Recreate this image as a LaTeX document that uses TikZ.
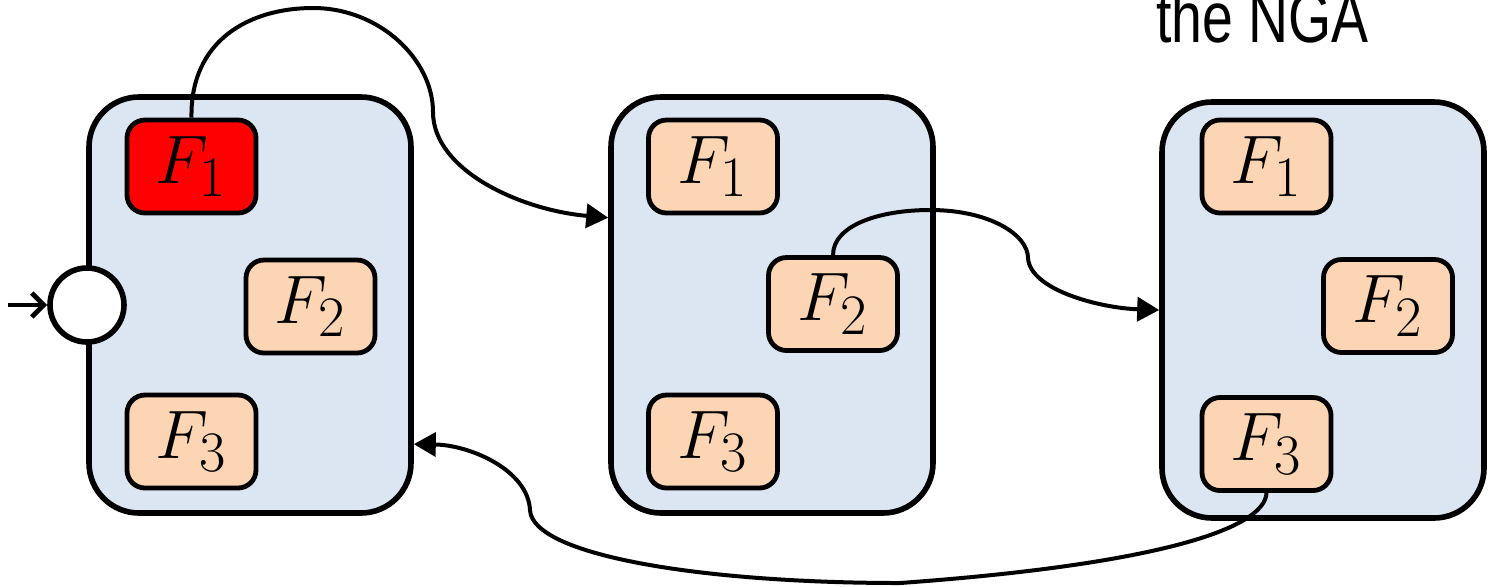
\documentclass[tikz,border=0pt]{standalone}
\usepackage{graphicx}
\usepackage{fontspec}
\newfontfamily\labelfont{Liberation Sans}
\usetikzlibrary{arrows.meta,calc}

\definecolor{stateblue}{HTML}{DCE6F2}
\definecolor{flagpeach}{HTML}{FCD5B4}
\definecolor{flagred}{HTML}{FF0000}

% flag label: math at \Huge, enlarged
\newcommand{\flaglabel}[1]{\scalebox{1.38}{\Huge$F_{#1}$}}

\tikzset{
  statebox/.style={draw=black, line width=2.8pt, fill=stateblue, rounded corners=25pt,
    minimum width=161pt, minimum height=208pt, inner sep=0pt},
  flagbox/.style={draw=black, line width=2.4pt, fill=flagpeach, rounded corners=9pt,
    minimum width=64.5pt, minimum height=46.5pt, inner sep=0pt},
  activeflag/.style={flagbox, fill=flagred},
  startdot/.style={circle, draw=black, line width=2.8pt, fill=white, minimum size=37pt, inner sep=0pt},
  jump/.style={draw=black, line width=2pt, -{Triangle[length=11pt,width=12pt]}},
  entry/.style={draw=black, line width=2.4pt, -{Straight Barb[length=6pt,width=12pt,line width=2.4pt]}}
}

\begin{document}
\begin{tikzpicture}[x=0.5pt, y=-0.5pt]
  \useasboundingbox (0,0) rectangle (1492,586);

  % three states, each holding the flags F1..F3
  \node[statebox] (A) at (250,305) {};
  \node[statebox] (B) at (772,305) {};
  \node[statebox] (C) at (1323,310) {};

  \node[activeflag] (A1) at (191.5,166.5) {\flaglabel{1}};
  \node[flagbox]    (A2) at (310.5,306.5) {\flaglabel{2}};
  \node[flagbox]    (A3) at (191.5,441.5) {\flaglabel{3}};

  \node[flagbox] (B1) at (713,166.5) {\flaglabel{1}};
  \node[flagbox] (B2) at (833,304)   {\flaglabel{2}};
  \node[flagbox] (B3) at (713,441.5) {\flaglabel{3}};

  \node[flagbox] (C1) at (1266.5,166.5) {\flaglabel{1}};
  \node[flagbox] (C2) at (1388,306)     {\flaglabel{2}};
  \node[flagbox] (C3) at (1266.5,444)   {\flaglabel{3}};

  % initial state marker
  \node[startdot] (S) at (87,305) {};
  \coordinate (in) at (8,305);
  \draw[entry] (in) -- (S.west);

  % heading, set in a narrow cut
  \node[anchor=base west, inner sep=0pt] (title) at (1156,42)
    {\scalebox{0.77}[1]{\labelfont\fontsize{36}{36}\selectfont the NGA}};

  % transitions
  \coordinate (Bin) at ($(B.north west)!0.293!(B.south west)$);
  \coordinate (Ain) at ($(A.north east)!0.83!(A.south east)$);

  \draw[jump] (A1.north) .. controls (190,40) and (250,8) .. (313,8)
              .. controls (380,8) and (433,60) .. (433,112)
              .. controls (433,170) and (520,210) .. (Bin);

  \draw[jump] (B2.north) .. controls (833,225) and (880,210) .. (930,210)
              .. controls (990,210) and (1028,235) .. (1028,258)
              .. controls (1030,290) and (1100,308) .. (C.west);

  \draw[jump] (C3.south) .. controls (1265,530) and (1150,565) .. (900,583)
              .. controls (700,583) and (532,555) .. (530,510)
              .. controls (528,470) and (470,445) .. (Ain);
\end{tikzpicture}
\end{document}
